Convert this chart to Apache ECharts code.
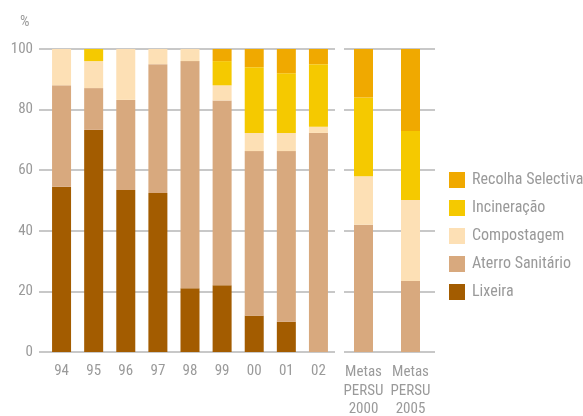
<!DOCTYPE html>
<html><head><meta charset="utf-8">
<script src="https://cdn.jsdelivr.net/npm/echarts@6/dist/echarts.min.js"></script>
<style>html,body{margin:0;padding:0;background:#fff}#c{width:583px;height:416px}</style>
</head><body><div id="c"></div>
<script>
const years = ['94','95','96','97','98','99','00','01','02'];
const metas = ['Metas\nPERSU\n2000','Metas\nPERSU\n2005'];
const names = ['Lixeira','Aterro Sanitário','Compostagem','Incineração','Recolha Selectiva'];
const colors = ['#A35C00','#D8A97E','#FDE0B5','#F5C900','#F0A900'];
// yearly values (%)
const lixeira    = [54.5, 73.3, 53.5, 52.5, 21, 22, 12, 10, 0];
const aterro     = [33.5, 13.8, 29.7, 42.5, 75, 61, 54.3, 56.3, 72.3];
const composta   = [12, 8.9, 16.8, 5, 4, 5, 6, 6, 2];
const incinera   = [0, 4, 0, 0, 0, 8, 21.7, 19.7, 20.7];
const recolha    = [0, 0, 0, 0, 0, 4, 6, 8, 5];
// PERSU targets (%)
const mLixeira  = [0, 0];
const mAterro   = [42, 23.4];
const mComposta = [16, 26.8];
const mIncinera = [26, 22.7];
const mRecolha  = [16, 27.1];

const yearSeries = [lixeira, aterro, composta, incinera, recolha];
const metaSeries = [mLixeira, mAterro, mComposta, mIncinera, mRecolha];
const grey = '#9a9a9a';
const font = '"Roboto Condensed", "DejaVu Sans Condensed", sans-serif';
const gTop = 49, gBottom = 64;

const series = [];
names.forEach((n,i)=>{
  series.push({name:n,type:'bar',stack:'a',xAxisIndex:1,yAxisIndex:1,data:yearSeries[i],barWidth:19,itemStyle:{color:colors[i]},emphasis:{disabled:true}});
  series.push({name:n,type:'bar',stack:'b',xAxisIndex:2,yAxisIndex:2,data:metaSeries[i],barWidth:19,itemStyle:{color:colors[i]},emphasis:{disabled:true}});
});

const yBase = (idx, showLabels, showSplit)=>({
  type:'value',gridIndex:idx,min:0,max:100,interval:20,
  axisLine:{show:false},axisTick:{show:false},
  axisLabel:{show:showLabels,color:grey,fontSize:15,fontFamily:font,margin:6},
  splitLine:{show:showSplit,lineStyle:{color:'#c8c8c8',width:2}}
});
const g = (left,width)=>({left:left,width:width,top:gTop,bottom:gBottom,outerBoundsMode:'none',containLabel:false});

const chart = echarts.init(document.getElementById('c'),null,{renderer:'canvas'});
chart.setOption({
  animation:false,
  title:{text:'%',left:15,top:10,textStyle:{color:grey,fontSize:15,fontWeight:'normal',fontFamily:font}},
  legend:{
    orient:'vertical',left:444,top:167,itemWidth:16,itemHeight:16,itemGap:12,
    data:names.slice().reverse(),icon:'rect',
    textStyle:{color:grey,fontSize:16,fontFamily:font,padding:[0,0,0,2]},
    selectedMode:false
  },
  grid:[g(39,296),g(45.5,289),g(340,94),g(344,91)],
  xAxis:[
    {type:'category',gridIndex:0,data:years,show:false},
    {type:'category',gridIndex:1,data:years,axisLine:{show:false},axisTick:{show:false},
      axisLabel:{color:grey,fontSize:15,fontFamily:font,margin:12,interval:0}},
    {type:'category',gridIndex:2,data:metas,axisLine:{show:false},axisTick:{show:false},
      axisLabel:{color:grey,fontSize:15,fontFamily:font,margin:11,interval:0,lineHeight:18.5}},
    {type:'category',gridIndex:3,data:metas,show:false}
  ],
  yAxis:[yBase(0,true,true),yBase(1,false,false),yBase(2,false,false),yBase(3,false,true)],
  series:series
});
</script></body></html>
